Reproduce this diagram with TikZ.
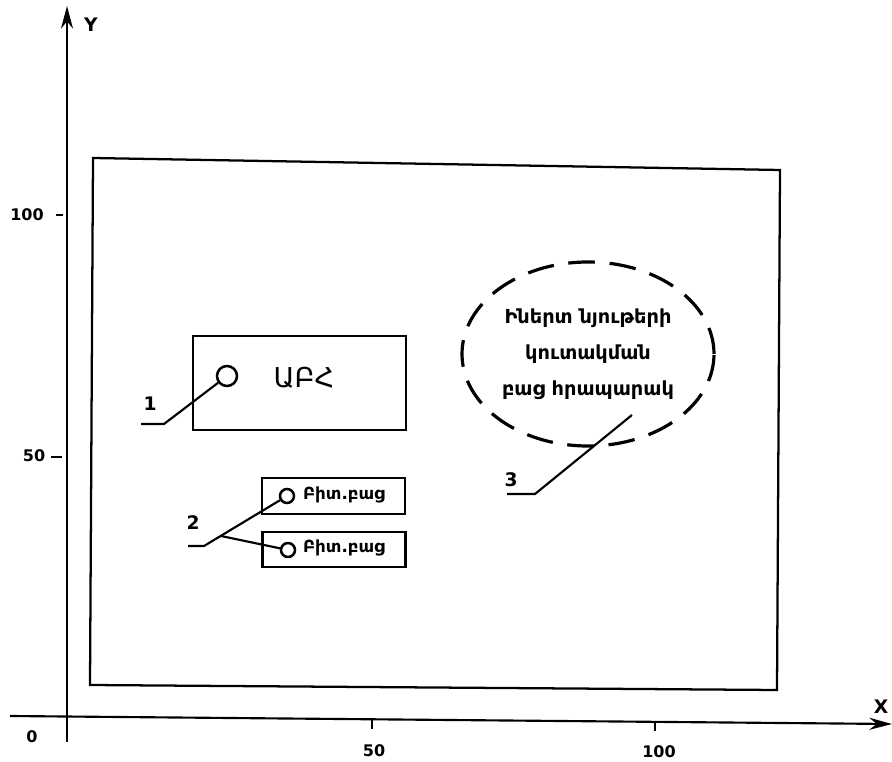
\documentclass[tikz,border=0pt]{standalone}
\usepackage{fontspec}
\setmainfont{DejaVu Sans}
\usetikzlibrary{arrows.meta, positioning, shapes.geometric}

\begin{document}
\begin{tikzpicture}[x=0.75pt, y=-0.75pt, line width=1.5pt,
  axis/.style={line width=1.6pt, -{Stealth[length=17pt, width=9pt]}},
  plotbox/.style={draw, rectangle, line width=1.8pt, inner sep=0pt},
  well/.style={draw, circle, line width=1.9pt, inner sep=0pt},
  numlbl/.style={font=\fontsize{14}{16}\selectfont\bfseries, inner sep=1pt},
  ticklbl/.style={font=\fontsize{12}{14}\selectfont\bfseries, inner sep=1pt},
  leader/.style={line width=1.6pt}]
\useasboundingbox (0,0) rectangle (892,762);

% axes
\coordinate (ybot) at (67,742);
\coordinate (ytop) at (67,6);
\coordinate (xleft) at (10,716);
\coordinate (xright) at (892,724);
\draw[axis] (ybot) -- (ytop);
\draw[axis] (xleft) -- (xright);
\node[numlbl] (ylbl) at (91,25) {Y};
\node[numlbl] (xlbl) at (881,707) {X};
\node[ticklbl] (orig) at (32,737) {0};

% ticks
\draw (372,719) -- (372,729);
\draw (655,721) -- (655,731);
\draw (56,215) -- (63,215);
\draw (51,457) -- (62,457);
\node[ticklbl] (x50) at (374,751) {50};
\node[ticklbl] (x100) at (659,752) {100};
\node[ticklbl] (y100) at (27,215) {100};
\node[ticklbl] (y50) at (34,456) {50};

% site boundary
\draw[line width=1.7pt] (93,158) -- (780,170) -- (777,690) -- (90,685) -- cycle;

% ABH
\node[plotbox, minimum width=160pt, minimum height=70.5pt] (abh) at (299.5,383) {};
\node[well, minimum size=15pt] (abhwell) at (227,376) {};
\node[font=\fontsize{20.5}{23}\selectfont] (abhtxt) at (304,378) {ԱԲՀ};

% bitumen
\node[plotbox, minimum width=107pt, minimum height=27pt] (bitA) at (333.5,496) {};
\node[plotbox, minimum width=107pt, minimum height=26pt] (bitB) at (334,549.5) {};
\node[well, minimum size=10.5pt] (bitwellA) at (287,496) {};
\node[well, minimum size=10.5pt] (bitwellB) at (288,550) {};
\node[font=\fontsize{12.5}{14}\selectfont\bfseries] (bittxtA) at (344,495) {Բիտ.բաց};
\node[font=\fontsize{12.5}{14}\selectfont\bfseries] (bittxtB) at (344,548) {Բիտ.բաց};

% inert materials storage
\node[draw, ellipse, line width=2.4pt, dash pattern=on 20pt off 11pt,
  minimum width=189pt, minimum height=138pt] (storage) at (588,354) {};
\node[font=\fontsize{14.5}{27}\selectfont\bfseries, align=center] (storagetxt) at (588,354)
  {Իներտ նյութերի\\կուտակման\\բաց հրապարակ};

% leaders
\coordinate (l1a) at (141,424);
\coordinate (l1b) at (164,424);
\draw[leader] (l1a) -- (l1b) -- (abhwell);
\node[numlbl] (n1) at (150,404) {1};

\coordinate (l2a) at (188,546);
\coordinate (l2b) at (204,546);
\draw[leader] (l2a) -- (l2b) -- (bitwellA) coordinate[pos=0.22] (l2c);
\draw[leader] (l2c) -- (bitwellB);
\node[numlbl] (n2) at (193,523) {2};

\coordinate (l3a) at (507,494);
\coordinate (l3b) at (535,494);
\coordinate (l3c) at (632,415);
\draw[leader] (l3a) -- (l3b) -- (l3c);
\node[numlbl] (n3) at (511,480) {3};
\end{tikzpicture}
\end{document}
